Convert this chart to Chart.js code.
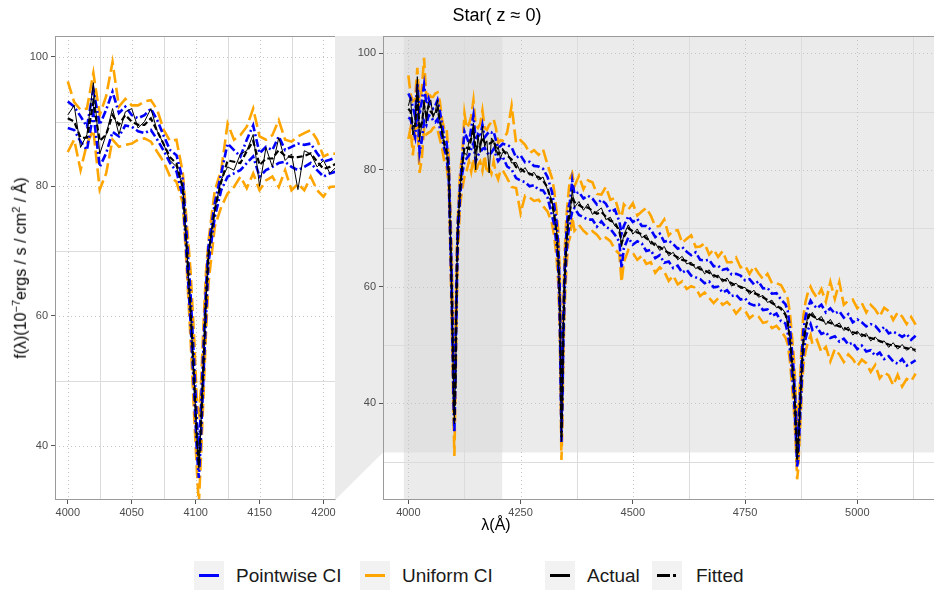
<!DOCTYPE html>
<html>
<head>
<meta charset="utf-8">
<script src="https://cdn.jsdelivr.net/npm/chart.js@4.4.0/dist/chart.umd.min.js"></script>
<style>
  body { margin: 0; width: 934px; height: 590px; overflow: hidden; background: #fff; position: relative;
         font-family: "Liberation Sans", Arial, sans-serif; }
  canvas { position: absolute; top: 0; }
  #left { left: 0; }
  #right { left: 335px; }
  .txt { position: absolute; white-space: nowrap; color: #000; }
  #title { left: 397px; width: 200px; top: 5px; text-align: center; font-size: 18px; }
  #xtitle { left: 446px; width: 100px; top: 516px; text-align: center; font-size: 16px; }
  #ytitle { left: 20px; top: 268px; font-size: 16px; transform: translate(-50%, -50%) rotate(-90deg); }
  #ytitle sup { font-size: 11px; }
  .key { position: absolute; top: 561px; width: 30px; height: 30px; background: #f2f2f2; }
  .key i { position: absolute; top: 13px; height: 3px; }
  .lab { position: absolute; top: 565px; font-size: 19px; color: #1a1a1a; }
</style>
</head>
<body>
<canvas id="left" width="340" height="540"></canvas>
<canvas id="right" width="612" height="540"></canvas>
<div id="title" class="txt">Star( z ≈ 0)</div>
<div id="xtitle" class="txt">λ(Å)</div>
<div id="ytitle" class="txt">f(λ)(10<sup>−7</sup>ergs / s / cm<sup>2</sup> / Å)</div>

<div class="key" style="left:194px"><i style="left:5px;width:20px;background:#0000ff"></i></div>
<div class="lab" style="left:236px">Pointwise CI</div>
<div class="key" style="left:360px"><i style="left:5px;width:20px;background:#ffa500"></i></div>
<div class="lab" style="left:402px">Uniform CI</div>
<div class="key" style="left:545px"><i style="left:5px;width:20px;background:#000"></i></div>
<div class="lab" style="left:587px">Actual</div>
<div class="key" style="left:652px"><i style="left:5px;width:13px;background:#000"></i><i style="left:21px;width:3px;background:#000"></i></div>
<div class="lab" style="left:696px">Fitted</div>

<script>
// wavelength grid (Angstrom)
const lambda = [
  4000, 4005, 4010, 4015, 4020, 4025, 4030, 4035, 4040, 4045, 4050, 4055, 4060, 4065, 4070, 4075,
  4080, 4085, 4090, 4093, 4096, 4099, 4101, 4102.5, 4104, 4106, 4108, 4110, 4115, 4120, 4125, 4130,
  4135, 4140, 4145, 4150, 4155, 4160, 4165, 4170, 4175, 4180, 4185, 4190, 4195, 4200, 4205, 4210,
  4220, 4230, 4240, 4250, 4260, 4270, 4280, 4290, 4300, 4310, 4320, 4325, 4330, 4334, 4337, 4339,
  4341, 4343, 4345, 4348, 4352, 4356, 4360, 4365, 4370, 4380, 4390, 4400, 4410, 4420, 4430, 4440,
  4450, 4460, 4470, 4475, 4480, 4490, 4500, 4510, 4520, 4530, 4540, 4550, 4560, 4570, 4580, 4590,
  4600, 4610, 4620, 4630, 4640, 4650, 4660, 4670, 4680, 4690, 4700, 4710, 4720, 4730, 4740, 4750,
  4760, 4770, 4780, 4790, 4800, 4810, 4820, 4830, 4840, 4845, 4850, 4854, 4858, 4861, 4864, 4866,
  4868, 4871, 4874, 4877, 4880, 4885, 4890, 4896, 4900, 4910, 4920, 4930, 4940, 4950, 4960, 4970,
  4980, 4990, 5000, 5010, 5020, 5030, 5040, 5050, 5060, 5070, 5080, 5090, 5100, 5110, 5120, 5130
];

const actual = [
  91, 92.5, 86, 88, 96, 85, 88, 92, 88, 91.5, 92, 89, 90, 92, 88.5, 86.5,
  84, 83, 80, 70.5, 61, 49.5, 41, 36.5, 42.5, 52, 62, 69.5, 76.5, 81, 83, 82.5,
  85, 85.5, 88, 80, 86, 83, 87.5, 84, 85, 79.5, 85.5, 85, 83, 84, 82, 83,
  83.1, 81.2, 81.3, 79.6, 80.4, 79.1, 79.6, 78.3, 78.8, 76.6, 74.8, 71.8, 69.6, 64.4, 58.4, 47.6,
  33.5, 42.4, 51.6, 61.6, 66.8, 72, 72.2, 76.6, 73.6, 74.6, 73.1, 74.2, 72.4, 72.9, 73.5, 71.5,
  71.9, 70.4, 69.9, 66.9, 68.9, 70.6, 69, 69.9, 68.4, 68.9, 67.3, 67.5, 66.2, 66.9, 65.3, 65.9,
  64.6, 65.2, 63.9, 64.2, 63.1, 63.5, 62.2, 62.9, 61.6, 62, 60.8, 61.5, 60.1, 60.6, 59.7, 59.9,
  58.7, 59.4, 58.2, 58.5, 57.3, 57.7, 56.4, 56.5, 55.5, 53.6, 51.3, 47.2, 44.3, 39.7, 35.3, 30.3,
  32.4, 36.6, 42.3, 46.7, 50.8, 52.4, 55.3, 55.1, 55.6, 54.3, 54.9, 53.5, 54.4, 53.2, 53.8, 52.5,
  53.1, 51.7, 52.4, 51.4, 52, 50.7, 51.4, 50.5, 50.7, 49.6, 50.4, 49.3, 50.1, 49.1, 49.7, 48.8
];

const fitted = [
  90.5, 90, 87.5, 87.5, 93, 87, 88, 91, 89.5, 91, 90, 89.5, 89.5, 90.5, 88.5, 86.5,
  84.5, 83.5, 79.7, 70.5, 61, 49.5, 41, 37, 42.5, 52, 62, 69.5, 76.4, 80.7, 84, 83.8,
  83.6, 85.4, 87, 83.3, 84.3, 84.3, 85.6, 84.7, 84.5, 84.5, 84.7, 85.1, 83.8, 82.7, 83, 83.5,
  82.5, 81.8, 80.5, 80.2, 79.6, 79.4, 79, 78.8, 78.2, 77, 74, 72.5, 69, 65, 58, 48,
  34, 42, 52, 61, 67.5, 71, 73, 75.5, 74.5, 74, 73.5, 73.6, 73, 72.5, 72.8, 72,
  71.3, 71, 69.5, 67.5, 68.5, 70, 69.5, 69.3, 69, 68.3, 67.8, 67, 66.8, 66.2, 65.8, 65.5,
  65, 64.6, 64.4, 63.8, 63.6, 63, 62.8, 62.4, 62, 61.6, 61.2, 61, 60.6, 60.2, 60, 59.6,
  59.2, 58.9, 58.6, 58.2, 57.7, 57.2, 56.8, 56.2, 55.2, 54, 51, 47.5, 44, 40, 35, 30.5,
  32, 37, 42, 47, 50.5, 53, 54.5, 55.6, 55, 54.6, 54.3, 54, 53.8, 53.5, 53.2, 53,
  52.6, 52.2, 52, 51.8, 51.5, 51.2, 51, 50.7, 50.4, 50.1, 49.9, 49.8, 49.6, 49.5, 49.3, 49.2
];

const pointUpper = [
  93.1, 92.3, 90.8, 89.2, 94.9, 89.5, 91.8, 94.6, 91.3, 92.3, 91, 90.5, 91, 92, 90.2, 87.8,
  85.6, 84.8, 81, 72.5, 63.5, 52, 43.5, 39.5, 45, 54.5, 64, 70.7, 77.4, 82, 86.6, 85.6,
  84.6, 87.2, 89.4, 85.1, 86.1, 85.6, 87.7, 85.6, 86.1, 86.6, 86.4, 86.6, 85.1, 83.8, 84.1, 84.5,
  84.3, 83.9, 82.1, 82.5, 81.3, 81.4, 80.7, 80.6, 80.2, 78.8, 76.2, 73.9, 71.2, 67, 60.5, 51,
  37, 45, 54.5, 63, 69.3, 73.4, 74.6, 78.2, 75.9, 76.2, 75.1, 75.6, 75.1, 74.1, 74.9, 74.2,
  72.8, 73.2, 71.2, 69.1, 70.4, 72.1, 71.1, 71.6, 70.4, 70.4, 69.8, 68.5, 69.1, 67.7, 67.9, 67.3,
  66.5, 66.8, 66, 65.4, 65.9, 64.6, 64.5, 64.6, 63.5, 63.6, 62.9, 63.1, 62.1, 62.2, 61.9, 61.1,
  61.3, 60.4, 60.9, 59.7, 59.8, 58.8, 58.9, 57.8, 57, 55.9, 52.9, 49.5, 46, 42, 37.2, 32.8,
  34.5, 39, 44, 49, 52.5, 55, 56.4, 57.6, 57.1, 56.3, 56.9, 55.6, 56.3, 55.4, 55.8, 54.7,
  55.3, 53.9, 54.4, 53.9, 53.2, 53.6, 53.3, 52.4, 53.1, 52, 52.3, 51.9, 51.4, 51.9, 50.9, 51.6
];

const pointLower = [
  89, 88.7, 86.9, 85.6, 91.3, 83, 85.1, 88.4, 87.7, 89.4, 89.2, 88.5, 88.2, 88.7, 87.2, 85.5,
  83.6, 82.3, 78.4, 69, 59, 47.5, 39, 35, 40.5, 50, 59.5, 68.1, 75.3, 79.4, 81.5, 82,
  82.5, 83.6, 84.6, 81.5, 82.5, 83, 83.6, 83.8, 83, 82.5, 83, 83.6, 82.5, 81.5, 82, 82.3,
  80.6, 80.1, 78.6, 78.2, 77.9, 77.2, 77.4, 76.6, 76.5, 75.3, 72.2, 70.6, 67.2, 63, 55.5, 45.5,
  33.4, 39.5, 49.5, 59, 65.6, 69, 71.2, 72.8, 73.5, 72.3, 71.9, 71.5, 71.5, 70.3, 71.2, 70.2,
  69.9, 68.9, 67.7, 63.2, 66.6, 68.4, 67.2, 67.8, 67.4, 66.1, 66.3, 64.9, 65.4, 64.1, 64.3, 63.2,
  63.6, 62.4, 62.9, 61.9, 61.6, 61.3, 60.6, 60.9, 59.9, 60, 59, 59.4, 58.4, 58.6, 57.8, 58,
  57.1, 56.8, 57, 56, 56.1, 55, 55.4, 54.1, 53.7, 52.1, 49.2, 45.6, 42, 38, 33, 29.2,
  30.2, 35, 40, 45, 48.6, 51.2, 52.6, 53.6, 52.6, 53.1, 51.9, 52.2, 51.2, 51.5, 50.6, 51.1,
  50.1, 50.4, 49.3, 49.9, 48.9, 49.1, 48.2, 48.7, 47.6, 48.1, 47.2, 46.8, 47.6, 46.5, 46.9, 47.4
];

const unifUpper = [
  96.2, 93, 91.8, 92, 97.5, 91, 93.9, 99.2, 92.3, 93.5, 92.5, 92.5, 93.1, 93.3, 91.8, 88.7,
  87, 87.2, 82, 74.5, 67, 56, 46.5, 45, 48.5, 58, 66.5, 71.5, 79.4, 82.5, 89.7, 87.2,
  87.9, 89.2, 92, 87.7, 87.2, 87.9, 90.2, 87.2, 86.9, 87.7, 88.2, 88.7, 87.2, 84.6, 85.1, 85,
  86.4, 91, 84.6, 85.1, 84.3, 82.9, 83.4, 82.6, 83.5, 80.9, 78.6, 76.4, 73, 69.5, 63, 54,
  41, 48, 57, 65.5, 72, 75.5, 78.5, 79.4, 77.2, 79, 76.7, 78.2, 77.9, 75.9, 75.8, 77.1,
  74.9, 75.2, 72.6, 72, 74.1, 73.2, 74.3, 72.2, 72.9, 73.5, 72.2, 70.3, 70.4, 71.5, 68.8, 69.6,
  69.7, 67.5, 68.2, 68.8, 66.8, 66.9, 67.4, 65.5, 66.4, 65.1, 66.1, 64.2, 64.2, 65, 63.3, 63.6,
  62.2, 63.5, 62.3, 61.3, 62.2, 60.6, 60.6, 60.3, 58.9, 58, 55.5, 52, 48.5, 44.5, 39.5, 36,
  37, 41.5, 46.5, 51.5, 55, 57.5, 59, 60, 59.3, 58.1, 59.6, 57.4, 60.8, 57.9, 60.8, 56.9,
  57.6, 57.8, 56.3, 57.2, 55.6, 56.9, 56.1, 54.9, 56.4, 55.8, 54.3, 55.6, 54.9, 53.6, 54.8, 53.5
];

const unifLower = [
  85.3, 87.2, 82.5, 86.6, 88.7, 79.5, 82, 87.2, 86.1, 86.4, 86.6, 87.2, 87.4, 86.9, 85.3, 83.8,
  81.5, 80.7, 77.4, 67.5, 56.5, 44, 36, 31, 37.5, 47, 57, 65, 73.8, 76.8, 78.9, 79.9,
  81.5, 79.7, 82, 79.4, 80.9, 81.5, 79.9, 82.5, 79.4, 80.4, 79.4, 81.5, 79.4, 78.4, 79.9, 80,
  78.6, 77.1, 76.9, 72.6, 75.6, 75.3, 74.7, 74.9, 73.8, 72.9, 70.8, 68.6, 65, 60.5, 53, 42.5,
  30.3, 36, 47, 56.5, 63, 67.5, 68.4, 72, 69.6, 70.6, 69.6, 68.9, 69.5, 68.9, 67.9, 68.4,
  67.8, 66.4, 65.6, 60.8, 64.2, 66.3, 65.8, 64.6, 65.3, 63.9, 64.2, 62.4, 63.3, 62.6, 61, 61.9,
  60.4, 60.9, 59.6, 60.1, 59.8, 58.4, 59, 58.1, 57.2, 58, 56.9, 57.4, 56.6, 55.4, 56.3, 55.9,
  54.6, 55.2, 54.9, 53.8, 54, 52.9, 53.3, 52.4, 51.3, 50.2, 47.3, 43.6, 40, 36, 31, 27,
  28.5, 33, 38, 43, 46.5, 49, 50.5, 51.7, 50.2, 50.9, 48.8, 49.7, 47.2, 49.3, 48.4, 47.1,
  48.4, 47.6, 46.4, 47.5, 46.9, 45.4, 46.6, 44.3, 45.3, 44.8, 43.1, 44.9, 42.9, 44.2, 43.8, 45.1
];

// axis ranges, ticks and minor grid positions
const zoomX = [3990, 4209];
const zoomY = [31.6, 103.2];
const fullX = [3943.5, 5186.5];
const fullY = [23.45, 102.96];
const zoomXTicks = [4000, 4050, 4100, 4150, 4200];
const zoomXMinor = [4025, 4075, 4125, 4175];
const fullXTicks = [4000, 4250, 4500, 4750, 5000];
const fullXMinor = [4125, 4375, 4625, 4875, 5125];
const yTicks = [40, 60, 80, 100];
const zoomYMinor = [50, 70, 90];
const fullYMinor = [30, 50, 70, 90];

const toXY = arr => lambda.map((x, i) => ({ x: x, y: arr[i] }));

function makeDatasets() {
    // first dataset is drawn on top
    return [
        { label: 'Fitted', data: toXY(fitted), borderColor: '#000', borderWidth: 2.2, borderDash: [6, 3] },
        { label: 'Actual', data: toXY(actual), borderColor: '#000', borderWidth: 1 },
        { label: 'Pointwise CI upper', data: toXY(pointUpper), borderColor: '#0000ff', borderWidth: 2.6, borderDash: [8, 3, 2, 3] },
        { label: 'Pointwise CI lower', data: toXY(pointLower), borderColor: '#0000ff', borderWidth: 2.6, borderDash: [8, 3, 2, 3] },
        { label: 'Uniform CI upper', data: toXY(unifUpper), borderColor: '#ffa500', borderWidth: 2.6, borderDash: [13, 5] },
        { label: 'Uniform CI lower', data: toXY(unifLower), borderColor: '#ffa500', borderWidth: 2.6, borderDash: [13, 5] }
    ];
}

// grid, zoom shading and panel border
const panelDecor = {
    id: 'panelDecor',
    beforeDraw(chart, args, opts) {
        const { ctx, chartArea: a, scales: { x, y } } = chart;
        ctx.save();
        if (opts.zoom) {
            const yb = y.getPixelForValue(zoomY[0]);
            ctx.fillStyle = '#ebebeb';
            ctx.beginPath();
            ctx.moveTo(0, a.top);
            ctx.lineTo(a.left, a.top);
            ctx.lineTo(a.left, yb);
            ctx.lineTo(0, a.bottom);
            ctx.closePath();
            ctx.fill();
            ctx.fillRect(a.left, a.top, a.width, yb - a.top);
            const x0 = x.getPixelForValue(zoomX[0]);
            const x1 = x.getPixelForValue(zoomX[1]);
            ctx.fillStyle = 'rgba(215,215,215,0.5)';
            ctx.fillRect(x0, a.top, x1 - x0, a.height);
        }
        ctx.beginPath();
        ctx.rect(a.left, a.top, a.width, a.height);
        ctx.clip();
        ctx.lineWidth = 1;
        const vline = v => { const p = Math.round(x.getPixelForValue(v)) + 0.5; ctx.moveTo(p, a.top); ctx.lineTo(p, a.bottom); };
        const hline = v => { const p = Math.round(y.getPixelForValue(v)) + 0.5; ctx.moveTo(a.left, p); ctx.lineTo(a.right, p); };
        ctx.strokeStyle = '#dcdcdc';
        ctx.beginPath();
        opts.xMinor.forEach(vline);
        opts.yMinor.forEach(hline);
        ctx.stroke();
        ctx.strokeStyle = '#c4c4c4';
        ctx.setLineDash([1, 3]);
        ctx.beginPath();
        opts.xTicks.forEach(vline);
        yTicks.forEach(hline);
        ctx.stroke();
        ctx.restore();
    },
    afterDatasetsDraw(chart) {
        const { ctx, chartArea: a } = chart;
        ctx.save();
        ctx.strokeStyle = '#9a9a9a';
        ctx.lineWidth = 1;
        ctx.strokeRect(Math.round(a.left) + 0.5, Math.round(a.top) + 0.5, Math.round(a.width), Math.round(a.height) - 1);
        ctx.restore();
    }
};

function makeChart(id, xr, yr, xTicks, xMinor, yMinor, yWidth, padRight, zoom) {
    const tickFont = { family: '"Liberation Sans", Arial, sans-serif', size: 11 };
    return new Chart(document.getElementById(id), {
        type: 'line',
        data: { datasets: makeDatasets() },
        options: {
            responsive: false,
            animation: false,
            events: [],
            layout: { padding: { top: 36, right: padRight, left: 0, bottom: 0 } },
            elements: { point: { radius: 0 }, line: { tension: 0, fill: false } },
            plugins: {
                legend: { display: false },
                tooltip: { enabled: false },
                panelDecor: { zoom: zoom, xTicks: xTicks, xMinor: xMinor, yMinor: yMinor }
            },
            scales: {
                x: {
                    type: 'linear', min: xr[0], max: xr[1],
                    afterBuildTicks: s => { s.ticks = xTicks.map(v => ({ value: v })); },
                    afterFit: s => { s.height = 40; },
                    grid: { drawOnChartArea: false, tickLength: 4, tickColor: '#555' },
                    border: { display: false },
                    ticks: { color: '#4d4d4d', font: tickFont, padding: 2, maxRotation: 0, callback: v => String(v) }
                },
                y: {
                    type: 'linear', min: yr[0], max: yr[1],
                    afterBuildTicks: s => { s.ticks = yTicks.map(v => ({ value: v })); },
                    afterFit: s => { s.width = yWidth; },
                    grid: { drawOnChartArea: false, tickLength: 4, tickColor: '#555' },
                    border: { display: false },
                    ticks: { color: '#4d4d4d', font: tickFont, padding: 3, callback: v => String(v) }
                }
            }
        },
        plugins: [panelDecor]
    });
}

makeChart('left', zoomX, zoomY, zoomXTicks, zoomXMinor, zoomYMinor, 55, 5, false);
makeChart('right', fullX, fullY, fullXTicks, fullXMinor, fullYMinor, 48, 6, true);
</script>
</body>
</html>
